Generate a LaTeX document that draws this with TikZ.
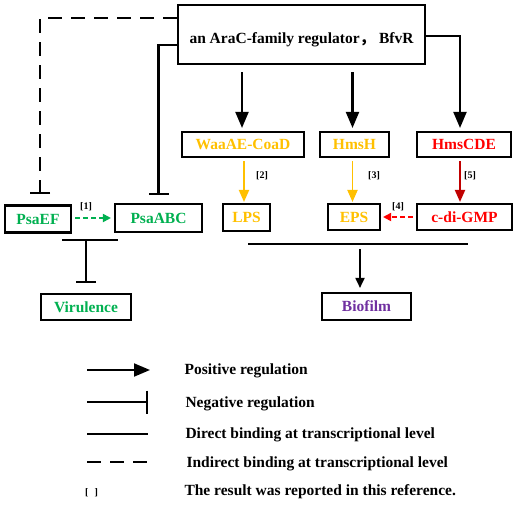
\documentclass[tikz,border=0pt]{standalone}
\usepackage{fontspec}
\setmainfont{Liberation Serif}
\newfontfamily\cjk{Noto Sans CJK SC}
\usetikzlibrary{arrows.meta}
\definecolor{psagreen}{RGB}{0,176,80}
\definecolor{hmsyellow}{RGB}{255,192,0}
\definecolor{hmsred}{RGB}{255,0,0}
\definecolor{hmsdark}{RGB}{192,0,0}
\definecolor{filmpurple}{RGB}{112,48,160}
\newcommand{\genefont}[0] {\fontsize{15.5}{18}\selectfont\bfseries}

\begin{document}
\begin{tikzpicture}[x=1pt,y=-1pt,
    gene/.style={draw=black,line width=2.1pt,inner sep=0pt,minimum height=27pt,font=\genefont},
    refnum/.style={font=\fontsize{10}{11}\selectfont\bfseries},
    legtext/.style={anchor=base west,font=\genefont},
    posarrow/.style={line width=2.1pt,-{Triangle[length=16pt,width=13pt]}},
    negbar/.style={line width=2.1pt,-{Bar[width=20pt,line width=2.1pt]}},
    indirect/.style={dash pattern=on 14pt off 9pt},
    thinarrow/.style={line width=1.9pt,-{Triangle[length=12pt,width=10pt]}},
    dotarrow/.style={line width=1.8pt,dash pattern=on 5pt off 3pt,-{Triangle[length=8pt,width=8pt]}}]
    \useasboundingbox (0,0) rectangle (517,509);

    \node[gene,minimum width=247pt,minimum height=59pt,text height=18pt,text depth=0pt] (bfvr) at (301.5,34.5) {an AraC-family regulator{\cjk ，} BfvR};
    \node[gene,text=psagreen,minimum width=66pt] (psaef) at (38,219) {PsaEF};
    \node[gene,text=psagreen,minimum width=87pt,minimum height=28pt] (psaabc) at (158.5,218) {PsaABC};
    \node[gene,text=hmsyellow,minimum width=122pt,minimum height=25pt] (waa) at (243,144.5) {WaaAE-CoaD};
    \node[gene,text=hmsyellow,minimum width=69pt,minimum height=25pt] (hmsh) at (354.5,144.5) {HmsH};
    \node[gene,text=hmsred,minimum width=94pt,minimum height=25pt] (hmscde) at (464,144.5) {HmsCDE};
    \node[gene,text=hmsyellow,minimum width=47pt] (lps) at (246.5,217.5) {LPS};
    \node[gene,text=hmsyellow,minimum width=52pt,minimum height=26pt] (eps) at (354,217) {EPS};
    \node[gene,text=hmsred,minimum width=95pt,minimum height=26pt] (cdg) at (464.5,217) {c-di-GMP};
    \node[gene,text=psagreen,minimum width=90pt,minimum height=26pt] (vir) at (86,307) {Virulence};
    \node[gene,text=filmpurple,minimum width=89pt] (film) at (366.5,306.5) {Biofilm};

    %references
    \node[refnum] (r1) at (86,207) {[1]};
    \node[refnum] (r2) at (262,176) {[2]};
    \node[refnum] (r3) at (374,176) {[3]};
    \node[refnum] (r4) at (398,207) {[4]};
    \node[refnum] (r5) at (470,176) {[5]};

    %regulation by BfvR
    \draw[negbar,indirect] ([yshift=-14pt]bfvr.north west) -| ([xshift=2pt,yshift=10pt]psaef.north);
    \draw[negbar] ([yshift=-41pt]bfvr.north west) -| ([yshift=8pt]psaabc.north);
    \draw[posarrow] ([xshift=-1pt,yshift=-7pt]bfvr.south -| waa.north) -- ([xshift=-1pt,yshift=3pt]waa.north);
    \draw[posarrow] ([xshift=-2pt,yshift=-7pt]bfvr.south -| hmsh.north) -- ([xshift=-2pt,yshift=3pt]hmsh.north);
    \draw[posarrow] ([yshift=-32pt]bfvr.north east) -| ([xshift=-4pt,yshift=3pt]hmscde.north);

    %second level
    \draw[dotarrow,psagreen] ([xshift=3pt,yshift=1pt]psaef.east) -- ([xshift=-3pt]psaabc.west);
    \draw[thinarrow,hmsyellow] ([xshift=1pt,yshift=-3pt]waa.south) -- ([xshift=1pt,yshift=1pt]waa.south |- lps.north);
    \draw[thinarrow,hmsyellow] ([xshift=-2pt,yshift=-3pt]hmsh.south) -- ([xshift=-2pt,yshift=1pt]hmsh.south |- eps.north);
    \draw[thinarrow,hmsdark] ([xshift=-4pt,yshift=-3pt]hmscde.south) -- ([xshift=-4pt,yshift=1pt]hmscde.south |- cdg.north);
    \draw[dotarrow,hmsred] ([xshift=-3pt]cdg.west) -- ([xshift=2pt]eps.east);

    %phenotypes
    \coordinate (vl) at (62,240);
    \coordinate (vr) at (118,240);
    \coordinate (vm) at (86,240);
    \draw[line width=2.1pt] (vl) -- (vr);
    \draw[negbar] (vm) -- ([yshift=10pt]vir.north);
    \coordinate (fl) at (248,244);
    \coordinate (fr) at (468,244);
    \coordinate (fm) at (360,249);
    \draw[line width=2.1pt] (fl) -- (fr);
    \draw[line width=1.8pt,-{Triangle[length=10pt,width=9pt]}] (fm) -- ([yshift=4pt]fm |- film.north);

    %legend
    \coordinate (p1) at (87,370);
    \coordinate (p2) at (150,370);
    \draw[posarrow,line width=1.9pt] (p1) -- (p2);
    \node[legtext] (tpos) at (181,374) {Positive regulation};
    \coordinate (n1) at (87,402);
    \coordinate (n2) at (148,402);
    \draw[line width=1.9pt,-{Bar[width=23pt,line width=1.9pt]}] (n1) -- (n2);
    \node[legtext] (tneg) at (182,407) {Negative regulation};
    \coordinate (d1) at (87,434);
    \coordinate (d2) at (148,434);
    \draw[line width=1.9pt] (d1) -- (d2);
    \node[legtext] (tdir) at (182,438) {Direct binding at transcriptional level};
    \coordinate (i1) at (87,462);
    \coordinate (i2) at (148,462);
    \draw[line width=1.9pt,indirect] (i1) -- (i2);
    \node[legtext] (tind) at (183,467) {Indirect binding at transcriptional level};
    \node[anchor=base west,font=\fontsize{10}{11}\selectfont\bfseries,inner sep=0pt] (mark) at (85,495) {[\hspace{6pt}]};
    \node[legtext] (tref) at (181,495) {The result was reported in this reference.};
\end{tikzpicture}
\end{document}
